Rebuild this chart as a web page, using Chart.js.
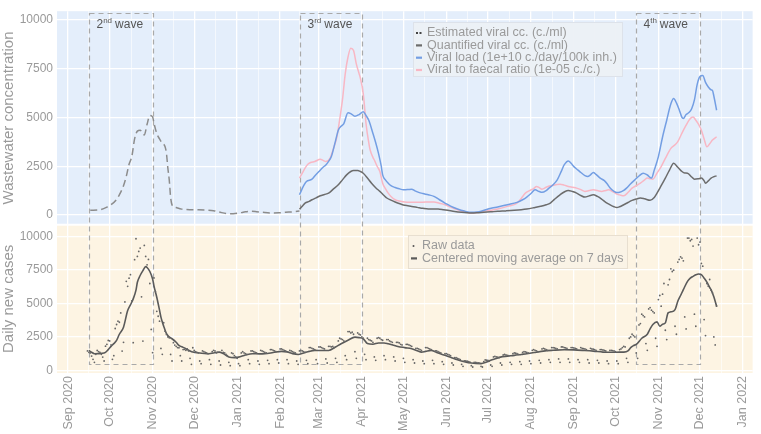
<!DOCTYPE html>
<html>
<head>
<meta charset="utf-8">
<title>Wastewater concentration and daily new cases</title>
<script src="https://cdn.jsdelivr.net/npm/chart.js@4/dist/chart.umd.min.js"></script>
<style>
  html, body { margin: 0; padding: 0; background: #fff; }
</style>
</head>
<body>
<canvas id="chart" width="761" height="434"></canvas>
<script>
// x values are days since 1 Sep 2020
const monthLabels = ["Sep 2020", "Oct 2020", "Nov 2020", "Dec 2020", "Jan 2021", "Feb 2021",
  "Mar 2021", "Apr 2021", "May 2021", "Jun 2021", "Jul 2021", "Aug 2021", "Sep 2021",
  "Oct 2021", "Nov 2021", "Dec 2021", "Jan 2022"];
const monthDays = [0, 30, 61, 91, 122, 153, 181, 212, 242, 273, 303, 334, 365, 395, 426, 456, 487];

const waveNames = ["2nd wave", "3rd wave", "4th wave"];
const waveStart = [15, 167, 410];
const waveEnd = [61, 212, 456];

// wastewater panel, [day, value]
const estimatedCc = [[16,240],[23,270],[28,400],[31,525],[35,800],[37,1035],[40,1500],[42,1975],[44,2600],
  [46,3000],[48,3900],[50,4300],[52,4350],[54,4150],[55,4100],[57,4650],[59,5100],[61,5030],[62,4700],
  [64,4180],[66,3900],[68,3670],[70,3500],[71,3150],[72,2400],[73,1800],[74,900],[75,520],[78,380],
  [82,300],[90,270],[100,250],[105,220],[109,150],[116,60],[123,100],[128,160],[132,190],[136,170],
  [140,140],[147,100],[152,110],[157,140],[162,160],[167,200]];

const quantifiedCc = [[167,300],[169,450],[171,610],[174,700],[176,780],[179,880],[182,985],[185,1050],
  [188,1120],[191,1300],[195,1545],[198,1800],[201,2055],[204,2230],[206,2280],[209,2280],[211,2230],
  [213,2140],[216,1900],[219,1630],[222,1400],[225,1210],[228,1000],[230,870],[233,760],[236,663],
  [240,560],[243,495],[248,440],[252,390],[256,340],[260,306],[264,310],[267,306],[271,270],[274,238],
  [279,180],[284,136],[288,110],[291,100],[295,110],[300,136],[305,160],[310,187],[316,210],[322,238],
  [327,270],[331,306],[336,370],[341,442],[345,520],[348,612],[351,800],[355,1035],[358,1180],[361,1260],
  [364,1200],[367,1120],[370,1000],[373,918],[376,980],[379,1035],[382,950],[385,816],[388,650],[391,525],
  [394,420],[396,380],[398,420],[401,525],[404,640],[407,750],[410,820],[413,870],[416,830],[420,750],
  [423,900],[425,1120],[428,1500],[431,1890],[434,2300],[437,2650],[440,2450],[443,2230],[445,2150],
  [447,2140],[450,1950],[452,1835],[455,1860],[457,1890],[459,1750],[460,1630],[462,1750],[464,1890],
  [466,1960],[468,2005]];

const viralLoad = [[167,1035],[170,1500],[172,1720],[176,1835],[178,2000],[181,2230],[184,2450],[186,2565],
  [188,2750],[190,2995],[193,3800],[195,4350],[197,4550],[199,4690],[202,5240],[204,5200],[207,5065],
  [210,5150],[213,5290],[215,5100],[217,4860],[220,4180],[222,3700],[224,3160],[226,2500],[227,2055],
  [229,1800],[231,1630],[233,1500],[236,1410],[239,1340],[242,1290],[245,1300],[248,1325],[250,1250],
  [253,1160],[256,1100],[260,1035],[264,955],[268,780],[272,612],[276,450],[281,306],[286,200],[291,136],
  [295,150],[298,187],[303,306],[306,360],[310,408],[317,525],[324,648],[328,780],[331,918],[334,1100],
  [337,1290],[340,1200],[342,1160],[345,1250],[347,1377],[350,1550],[353,1800],[356,2250],[358,2565],
  [361,2770],[363,2650],[365,2480],[368,2300],[370,2180],[373,2020],[375,1975],[377,2060],[379,2180],
  [381,2080],[384,1890],[387,1760],[389,1600],[391,1400],[394,1210],[396,1150],[398,1160],[401,1260],
  [403,1377],[406,1600],[409,1800],[412,2000],[415,2140],[418,2050],[421,1890],[423,2300],[426,2995],
  [429,4000],[432,4860],[435,5700],[437,5970],[439,5750],[441,5400],[443,5000],[444,4950],[446,5150],
  [448,5250],[450,5450],[452,5900],[454,6700],[456,7100],[458,7155],[460,6800],[462,6565],[464,6420],
  [465,6390],[466,6100],[468,5370]];

const faecalRatio = [[167,1890],[169,2150],[171,2400],[173,2600],[175,2690],[178,2740],[182,2855],[184,2800],
  [186,2740],[189,2905],[191,3300],[194,4010],[196,4900],[198,5900],[200,7240],[202,8100],[204,8550],
  [206,8430],[208,7750],[210,7250],[211,7000],[213,6220],[214,5500],[215,4690],[217,3700],[218,3330],
  [220,2950],[221,2820],[223,2500],[225,2230],[227,1630],[229,1350],[231,1120],[233,950],[236,780],
  [240,700],[243,663],[248,650],[253,648],[258,660],[264,663],[268,600],[272,525],[276,400],[281,270],
  [286,170],[291,100],[296,140],[300,187],[305,240],[310,306],[317,442],[324,612],[327,850],[330,1120],
  [333,1250],[336,1350],[338,1465],[340,1400],[342,1325],[345,1420],[348,1495],[352,1550],[355,1580],
  [358,1530],[361,1465],[364,1420],[367,1377],[370,1300],[373,1210],[376,1250],[379,1290],[382,1250],
  [385,1210],[388,1260],[390,1290],[393,1200],[396,1070],[398,1030],[401,985],[404,1150],[407,1377],
  [410,1500],[413,1630],[416,1800],[418,1890],[420,1860],[422,1835],[425,2150],[428,2480],[431,2900],
  [435,3415],[438,3600],[440,3760],[443,4200],[446,4605],[448,4850],[450,5000],[451,5030],[453,4860],
  [455,4650],[457,4350],[459,3900],[461,3500],[463,3650],[465,3840],[468,4010]];

// cases panel: daily raw counts from day 14 (15 Sep 2020), one row per week
const rawStartDay = 14;
const rawCases = [
  1450,1350,1300,1070,820,600,1200,   1490,1400,1350,1200,990,700,1810,
  1950,2240,2200,1900,820,1100,3130,  3430,3680,3600,4300,1440,2100,5120,
  6660,6290,6900,7160,5200,2070,8280, 9850,8530,8900,9150,5500,2190,9350,
  8530,7900,8300,6500,3060,1320,6920, 5900,4420,4050,3680,1640,1200,3560,
  2930,2685,2500,2440,1190,700,2070,  1890,1800,1700,1690,1100,700,1550,
  1570,1500,1600,1450,900,450,1690,   1500,1400,1350,1300,700,500,1450,
  1400,1350,1300,1250,800,450,1400,   1500,1450,1300,1350,700,400,1500,
  1350,1300,1200,1100,600,350,1300,   1250,1100,1000,900,500,350,1300,
  1400,1300,1250,1200,800,500,1450,   1450,1400,1350,1300,700,450,1500,
  1450,1400,1350,1300,750,500,1550,   1550,1500,1450,1400,800,550,1600,
  1600,1550,1500,1450,800,500,1500,   1450,1400,1350,1300,700,450,1450,
  1500,1450,1400,1350,750,500,1700,   1700,1650,1600,1550,800,500,1750,
  1750,1700,1650,1600,850,550,1800,   1800,1750,1800,1700,900,600,2200,
  2400,2350,2300,2200,1100,800,2900,  2900,2800,2850,2700,1400,900,2800,
  2700,2650,2500,2400,1200,800,2400,  2300,2250,2200,2100,1000,750,2400,
  2450,2400,2300,2250,1100,800,2300,  2300,2200,2150,2100,1000,700,2100,
  2100,2050,1950,1900,900,600,1950,   1950,1900,1850,1800,800,550,1650,
  1650,1600,1550,1500,700,500,1700,   1700,1650,1600,1550,750,500,1450,
  1450,1400,1350,1300,650,450,1250,   1250,1200,1150,1100,550,400,950,
  950,900,850,800,450,300,700,        700,680,650,620,350,250,600,
  600,580,560,540,300,250,650,        780,760,740,700,400,300,1000,
  1050,1000,980,950,550,400,1150,     1200,1150,1120,1100,600,450,1250,
  1300,1280,1250,1200,650,450,1350,   1400,1380,1350,1300,700,500,1500,
  1550,1500,1450,1400,750,550,1600,   1650,1600,1550,1500,800,600,1700,
  1700,1680,1650,1600,850,600,1750,   1750,1700,1680,1650,850,600,1700,
  1700,1680,1650,1600,800,600,1700,   1650,1620,1600,1550,800,550,1650,
  1600,1580,1550,1500,750,550,1550,   1550,1520,1500,1450,700,500,1500,
  1500,1480,1450,1400,700,500,1550,   1600,1700,1800,1750,900,600,2400,
  2500,2700,2600,2500,1300,900,3400,  3500,4200,4100,4000,2000,1500,4600,
  4700,4500,4400,4300,2400,1800,5300, 5600,4800,5700,6500,3000,2300,6400,
  6800,7600,7400,7500,3300,2700,8100, 8300,8500,8400,8200,4000,3100,9900,
  9900,9700,9800,9300,4200,3300,9900, 9400,9600,8000,7800,3800,2600,6500,
  6300,6800,6000,5800,2500,1900,4800
];

const movingAverage = [[15,1490],[17,1350],[19,1245],[22,1250],[26,1290],[29,1550],[31,1790],[33,2000],
  [35,2240],[37,2700],[40,3230],[43,4475],[45,4900],[47,5350],[49,6000],[50,6590],[52,7100],[54,7460],
  [56,7760],[57,7700],[59,7400],[61,6840],[62,6300],[64,5470],[66,4500],[67,3980],[69,3300],[71,2740],
  [73,2500],[75,2365],[78,2100],[80,1865],[83,1720],[85,1620],[88,1450],[90,1365],[95,1300],[100,1245],
  [105,1300],[109,1365],[112,1250],[116,990],[120,950],[123,990],[128,1150],[133,1245],[138,1230],
  [142,1245],[148,1330],[154,1420],[158,1380],[162,1250],[166,1190],[170,1300],[174,1420],[178,1490],
  [183,1480],[188,1490],[193,1750],[197,1990],[202,2250],[207,2485],[210,2450],[213,2365],[216,2000],
  [220,1950],[224,2050],[228,2050],[231,1990],[235,1880],[238,1790],[243,1700],[248,1620],[252,1470],
  [255,1365],[258,1420],[262,1490],[266,1330],[272,1120],[276,980],[281,800],[286,650],[291,545],
  [298,500],[302,620],[305,746],[309,880],[312,990],[317,1060],[322,1120],[327,1190],[331,1245],
  [337,1340],[343,1440],[350,1500],[358,1545],[365,1530],[372,1490],[379,1440],[386,1365],[393,1350],
  [398,1360],[401,1365],[404,1450],[406,1700],[408,1850],[410,1940],[414,2400],[418,2700],[420,3100],
  [422,3430],[425,3630],[427,3300],[429,3450],[431,3550],[433,4300],[435,4380],[438,4550],[440,5170],
  [442,5600],[444,6040],[447,6660],[449,6900],[451,7035],[453,7150],[455,7210],[457,7160],[459,6900],
  [461,6600],[463,6200],[464,6040],[466,5500],[468,4800]];

const yTickValues = [0, 2500, 5000, 7500, 10000];

function toXY(pairs) {
  return pairs.map(p => ({ x: p[0], y: p[1] }));
}

// major ticks at month starts, minor ticks halfway between
const xTicks = [];
monthDays.forEach((d, i) => {
  xTicks.push(d);
  if (i < monthDays.length - 1) xTicks.push((d + monthDays[i + 1]) / 2);
});
const yTicks = [];
yTickValues.forEach((v, i) => {
  yTicks.push(v);
  if (i < yTickValues.length - 1) yTicks.push(v + 1250);
});

Chart.defaults.font.family = "'Liberation Sans', Arial, sans-serif";

const FONT = "'Liberation Sans', Arial, sans-serif";
const TXT = "#9a9a9a";

function yAxis(title, min, max, weight) {
  return {
    type: "linear",
    position: "left",
    stack: "panels",
    stackWeight: weight,
    min: min,
    max: max,
    afterBuildTicks: s => { s.ticks = yTicks.map(v => ({ value: v })); },
    afterFit: s => { s.width = 57; },
    ticks: {
      color: TXT,
      font: { size: 12 },
      padding: 4,
      callback: v => (v % 2500 === 0 ? String(v) : "")
    },
    grid: {
      color: "#ffffff",
      lineWidth: c => (c.tick && c.tick.value % 2500 === 0 ? 1.3 : 0.6),
      drawTicks: false
    },
    border: { display: false },
    title: { display: true, text: title, color: TXT, font: { size: 15 }, padding: { top: 0, bottom: 2 } }
  };
}

const panelPlugin = {
  id: "panels",
  beforeDraw(chart) {
    const { ctx, chartArea } = chart;
    const top = chart.scales.y, bot = chart.scales.y2;
    ctx.save();
    ctx.fillStyle = "#e4eefb";
    ctx.fillRect(chartArea.left, top.top, chartArea.width, top.bottom - top.top - 1);
    ctx.fillStyle = "#fdf4e3";
    ctx.fillRect(chartArea.left, bot.top + 1, chartArea.width, bot.bottom - bot.top - 1);
    ctx.restore();
  },
  beforeDatasetsDraw(chart) {
    const { ctx } = chart;
    const x = chart.scales.x, top = chart.scales.y, bot = chart.scales.y2;
    const y0 = Math.round(top.getPixelForValue(10340)) + 0.5;
    const y1 = Math.round(bot.getPixelForValue(450)) + 0.5;
    ctx.save();
    ctx.strokeStyle = "#a9a9a9";
    ctx.lineWidth = 1.2;
    ctx.setLineDash([5, 4]);
    waveNames.forEach((name, i) => {
      const x0 = Math.round(x.getPixelForValue(waveStart[i])) + 0.5;
      const x1 = Math.round(x.getPixelForValue(waveEnd[i])) + 0.5;
      ctx.strokeRect(x0, y0, x1 - x0, y1 - y0);
      const m = name.match(/^(\d+)(\D+?) (.*)$/);
      ctx.fillStyle = "#555";
      ctx.textBaseline = "alphabetic";
      let tx = x0 + 7;
      const ty = y0 + 14;
      ctx.font = "12px " + FONT;
      ctx.fillText(m[1], tx, ty);
      tx += ctx.measureText(m[1]).width;
      ctx.font = "8px " + FONT;
      ctx.fillText(m[2], tx, ty - 5);
      tx += ctx.measureText(m[2]).width + 3;
      ctx.font = "12px " + FONT;
      ctx.fillText(m[3], tx, ty);
    });
    ctx.restore();
  },
  afterDraw(chart) {
    const ctx = chart.ctx;
    const ds = chart.data.datasets;
    function legend(bx, by, bw, bh, fill, stroke, items) {
      ctx.save();
      ctx.fillStyle = fill;
      ctx.fillRect(bx, by, bw, bh);
      ctx.strokeStyle = stroke;
      ctx.lineWidth = 1;
      ctx.strokeRect(bx + 0.5, by + 0.5, bw - 1, bh - 1);
      ctx.font = "12.5px " + FONT;
      ctx.textBaseline = "middle";
      items.forEach((d, i) => {
        const cy = by + 11 + i * 12.3;
        const sx = bx + 3;
        if (d.showLine === false) {
          ctx.fillStyle = "#555";
          ctx.beginPath(); ctx.arc(sx + 2.5, cy, 1, 0, Math.PI * 2); ctx.fill();
        } else if (d.borderDash) {
          ctx.fillStyle = "#444";
          ctx.fillRect(sx, cy - 1, 2, 2);
          ctx.fillRect(sx + 3.5, cy - 1, 2, 2);
        } else {
          ctx.fillStyle = d.borderColor;
          ctx.fillRect(sx, cy - 1, 6, 2.2);
        }
        ctx.fillStyle = TXT;
        ctx.fillText(d.label, sx + 11, cy);
      });
      ctx.restore();
    }
    legend(413, 22, 210, 55, "rgba(236,240,246,0.95)", "#dde2ea", ds.slice(0, 4));
    legend(408, 235, 220, 34, "rgba(250,242,230,0.95)", "#e8dfd0", ds.slice(4, 6));
  }
};

const ctx = document.getElementById("chart").getContext("2d");
new Chart(ctx, {
  type: "line",
  data: {
    datasets: [
      { label: "Estimated viral cc. (c./ml)", data: toXY(estimatedCc), yAxisID: "y",
        borderColor: "#8c8c8c", borderWidth: 1.5, borderDash: [7, 4] },
      { label: "Quantified viral cc. (c./ml)", data: toXY(quantifiedCc), yAxisID: "y",
        borderColor: "#6c6c6c", borderWidth: 1.5 },
      { label: "Viral load (1e+10 c./day/100k inh.)", data: toXY(viralLoad), yAxisID: "y",
        borderColor: "#739ee3", borderWidth: 1.5 },
      { label: "Viral to faecal ratio (1e-05 c./c.)", data: toXY(faecalRatio), yAxisID: "y",
        borderColor: "#f8b7c4", borderWidth: 1.5 },
      { label: "Raw data", data: rawCases.map((v, i) => ({ x: rawStartDay + i, y: v })), yAxisID: "y2",
        showLine: false, pointRadius: 0.9, pointBackgroundColor: "#666", pointBorderWidth: 0 },
      { label: "Centered moving average on 7 days", data: toXY(movingAverage), yAxisID: "y2",
        borderColor: "#5a5a5a", borderWidth: 1.6 }
    ]
  },
  options: {
    responsive: false,
    animation: false,
    events: [],
    layout: { padding: { top: 7, right: 5, left: 0, bottom: 0 } },
    elements: {
      point: { radius: 0 },
      line: { cubicInterpolationMode: "monotone" }
    },
    plugins: { legend: { display: false }, tooltip: { enabled: false } },
    scales: {
      x: {
        type: "linear",
        min: -8,
        max: 494,
        afterBuildTicks: s => { s.ticks = xTicks.map(v => ({ value: v })); },
        afterFit: s => { s.height = 61; },
        ticks: {
          autoSkip: false,
          minRotation: 90,
          maxRotation: 90,
          color: TXT,
          font: { size: 12.5 },
          padding: 3,
          callback: v => {
            const i = monthDays.indexOf(v);
            return i >= 0 ? monthLabels[i] : "";
          }
        },
        grid: {
          color: "#ffffff",
          lineWidth: c => (c.tick && monthDays.includes(c.tick.value) ? 1.3 : 0.6),
          drawTicks: false
        },
        border: { display: false }
      },
      // left boxes of a stack are laid out last-defined first, so the lower panel comes first here
      y2: yAxis("Daily new cases", -200, 10900, 150),
      y: yAxis("Wastewater concentration", -500, 10450, 216)
    }
  },
  plugins: [panelPlugin]
});
</script>
</body>
</html>
